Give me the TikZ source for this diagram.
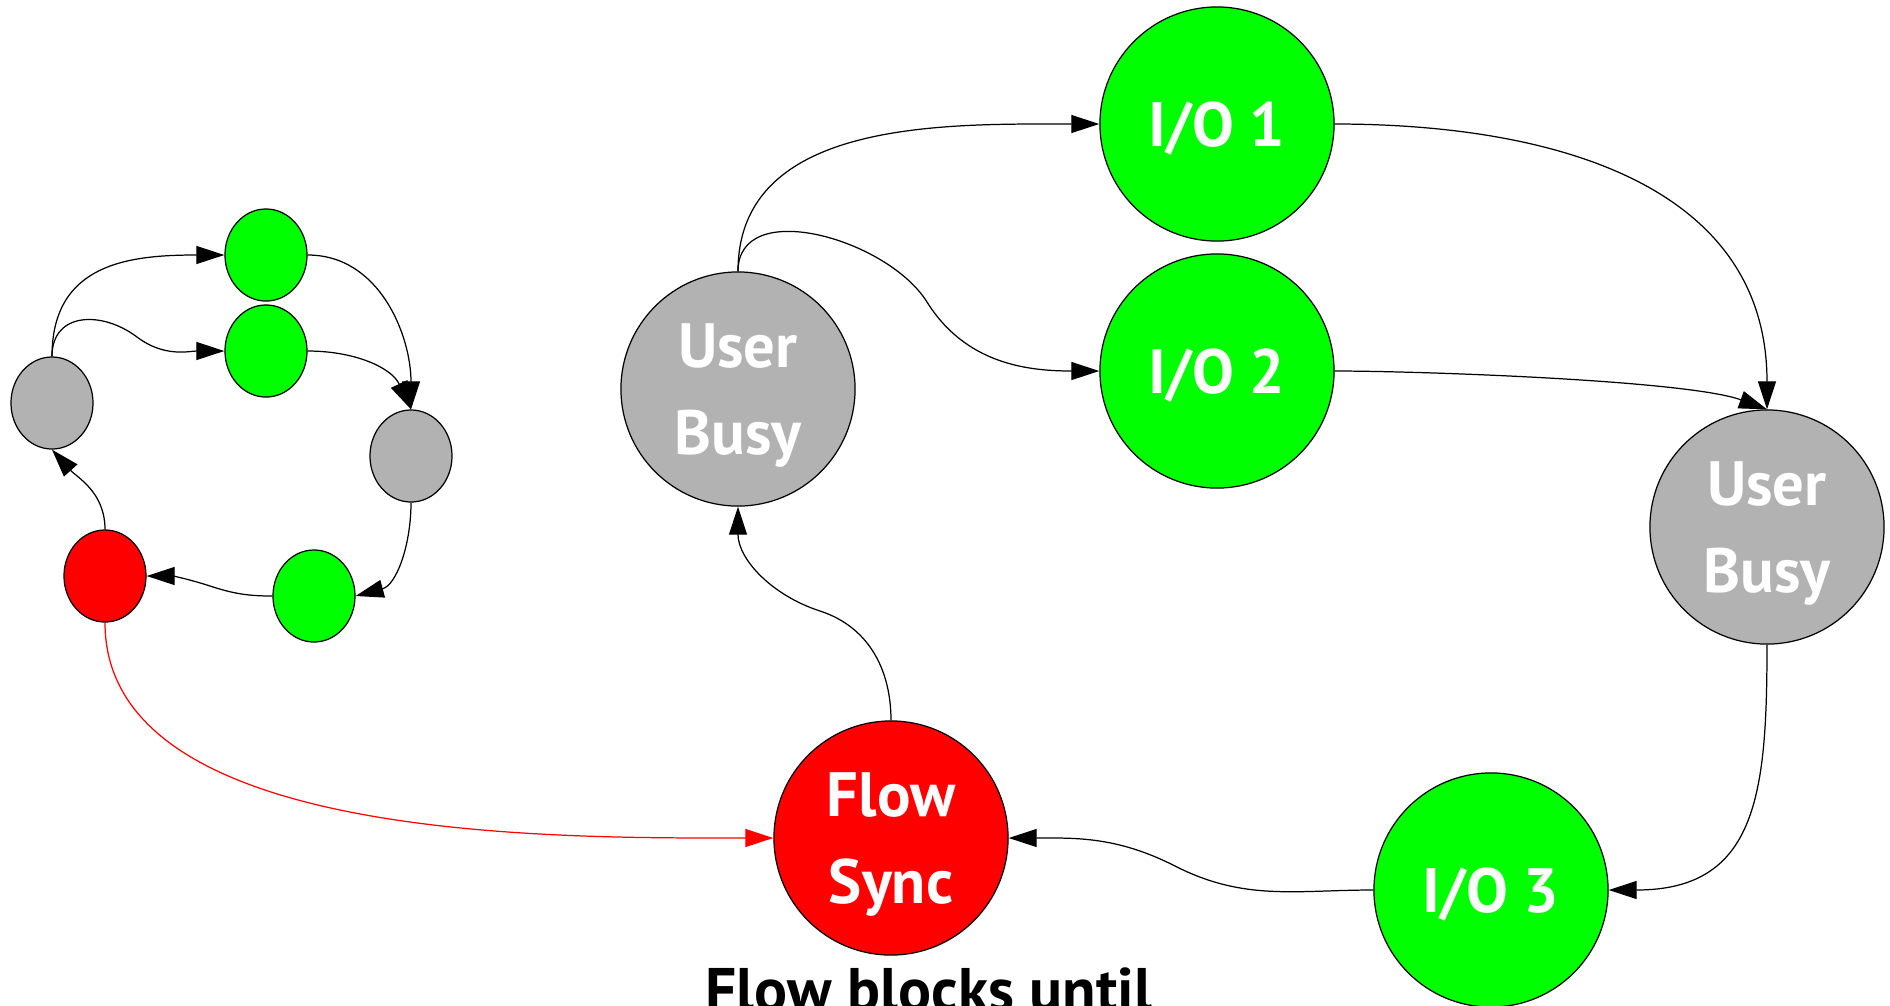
\documentclass[tikz,border=0pt]{standalone}
\usepackage{fontspec}
\setmainfont{PT Sans}
\usepackage{xcolor}
\usepackage{tikz}
\usetikzlibrary{
	positioning,						% Relative positioning
	shapes.geometric,					% Ellipses for the small loop
	arrows.meta							% Triangle arrow tips
}
\definecolor{busy-gray}{rgb}{0.7, 0.7, 0.7}
\definecolor{io-green}{rgb}{0.0, 1.0, 0.0}
\definecolor{sync-red}{rgb}{1.0, 0.0, 0.0}

\begin{document}
\begin{tikzpicture}[x=0.01cm, y=0.01cm, line width=0.35pt, >={Triangle[length=2.8mm, width=1.8mm]}]
		\tikzstyle{state} = [draw, circle, minimum size=2.34cm, inner sep=0pt, text=white, align=center, text depth=0pt, font=\fontsize{17.8}{24.7}\selectfont\bfseries]
		\tikzstyle{dot} = [draw, ellipse, minimum width=0.82cm, minimum height=0.92cm, inner sep=0pt]
		
		\useasboundingbox (0, 0) rectangle (1890, -1005);
		\clip (0, 0) rectangle (1890, -1005);
		
		% Small loop
		%% Nodes
		\node[dot, fill=busy-gray] at (52, -403) (smallBusyOne) {};
		\node[dot, fill=io-green] at (266, -255) (smallIoOne) {};
		\node[dot, fill=io-green] at (266, -351) (smallIoTwo) {};
		\node[dot, fill=busy-gray] at (411, -456) (smallBusyTwo) {};
		\node[dot, fill=io-green] at (314, -596) (smallIoThree) {};
		\node[dot, fill=sync-red] at (105, -576) (smallSync) {};
		%% Arrows
		\coordinate (smallBendTwo) at (137, -337);
		\coordinate (smallBendThree) at (210, -586);
		\draw[->] (smallBusyOne.north) to [out=90, in=180, looseness=1.2] (smallIoOne.west);
		\draw[->] (smallBusyOne.north) to [out=90, in=143, looseness=1.3] (smallBendTwo) to [out=-37, in=180] (smallIoTwo.west);
		\draw[->] (smallIoOne.east) to [out=0, in=90] (smallBusyTwo.north);
		\draw[->] (smallIoTwo.east) to [out=0, in=115] (smallBusyTwo.north);
		\draw[->] (smallBusyTwo.south) to [out=-90, in=15] (smallIoThree.east);
		\draw[->] (smallIoThree.west) to [out=180, in=-18] (smallBendThree) to [out=162, in=0] (smallSync.east);
		\draw[->] (smallSync.north) to [out=90, in=-48] (smallBusyOne.south);
		
		% Large loop
		%% Nodes
		\node[state, fill=busy-gray] at (738, -389) (userBusyOne) {User\\Busy};
		\node[state, fill=io-green] at (1217, -124) (ioOne) {I/O 1};
		\node[state, fill=io-green] at (1217, -371) (ioTwo) {I/O 2};
		\node[state, fill=busy-gray] at (1767, -527) (userBusyTwo) {User\\Busy};
		\node[state, fill=io-green] at (1491, -890) (ioThree) {I/O 3};
		\node[state, fill=sync-red] at (891, -838) (flowSync) {Flow\\Sync};
		%% Arrows
		\coordinate (ioTwoBend) at (927, -302);
		\coordinate (ioThreeBend) at (1175, -866);
		\coordinate (flowSyncBend) at (820, -611);
		\draw[->] (userBusyOne.north) to [out=90, in=180] (ioOne.west);
		\draw[->] (userBusyOne.north) to [out=90, in=122] (ioTwoBend) to [out=-58, in=180] (ioTwo.west);
		\draw[->] (ioOne.east) to [out=0, in=90, looseness=1.1] (userBusyTwo.north);
		\draw[->] (ioTwo.east) to [out=0, in=160, looseness=0.5] (userBusyTwo.north);
		\draw[->] (userBusyTwo.south) to [out=-90, in=0, looseness=1.3] (ioThree.east);
		\draw[->] (ioThree.west) to [out=180, in=-27] (ioThreeBend) to [out=153, in=0] (flowSync.east);
		\draw[->] (flowSync.north) to [out=90, in=-18] (flowSyncBend) to [out=162, in=-90] (userBusyOne.south);
		
		% Hand-over from the small loop
		\draw[->, sync-red] (smallSync.south) to [out=-90, in=180, looseness=0.8] (flowSync.west);
		
		% Label
		\node[anchor=base, inner sep=0pt, font=\fontsize{17.5}{22}\selectfont\bfseries] at (929, -1011) (flowBlocksLabel) {Flow blocks until};
	\end{tikzpicture}
\end{document}
